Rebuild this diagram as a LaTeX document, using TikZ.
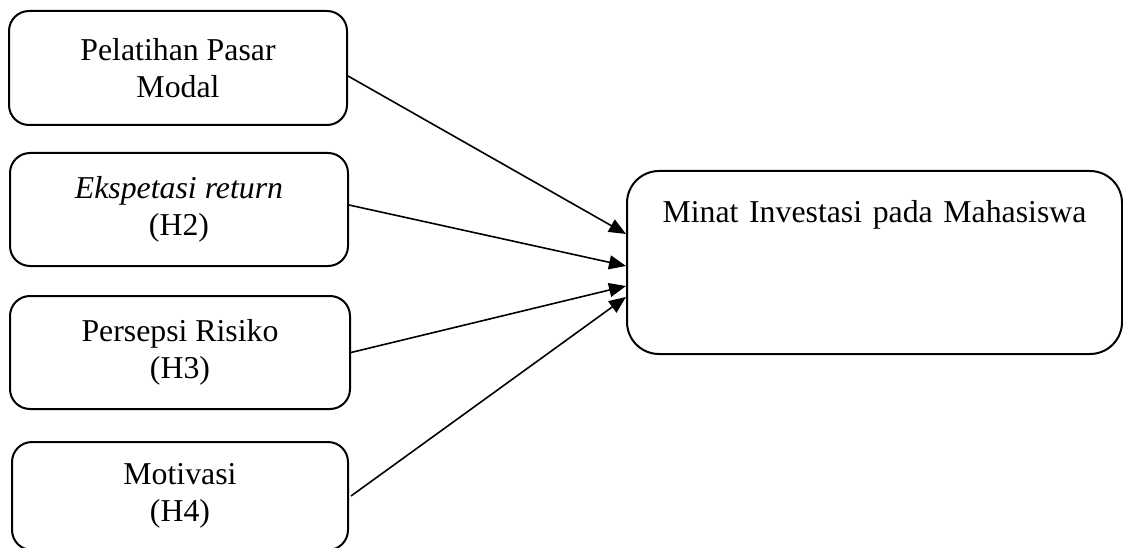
\documentclass[tikz,border=0pt]{standalone}
\usepackage{fontspec}
\setmainfont{Liberation Serif}
\usetikzlibrary{arrows.meta}
\begin{document}
\begin{tikzpicture}[x=1pt,y=-1pt,
  box/.style={draw, line width=2pt, rounded corners=20pt, inner sep=0pt, align=center,
    font=\fontsize{31.8}{36.5}\selectfont},
  arr/.style={line width=1.6pt, -{Triangle[length=17pt,width=14pt]}}]
\useasboundingbox (0,0) rectangle (1123,548);
\node[box, minimum width=338pt, minimum height=114pt] (b1) at (178,68) {Pelatihan Pasar\\Modal};
\node[box, minimum width=338pt, minimum height=113pt] (b2) at (179,209.5) {\textit{Ekspetasi return}\\(H2)};
\node[box, minimum width=340pt, minimum height=113pt] (b3) at (180,352.5) {Persepsi Risiko\\(H3)};
\node[box, minimum width=336pt, minimum height=108pt] (b4) at (180,496) {Motivasi\\(H4)};
\node[box, rounded corners=32pt, text width=495pt, text height=51pt, text depth=132pt] (t) at (874.5,262.5) {Minat Investasi pada Mahasiswa};
\draw[arr] ([yshift=-8pt]b1.east) -- ([yshift=28.5pt]t.west);
\draw[arr] ([yshift=4.5pt]b2.east) -- ([yshift=-3.5pt]t.west);
\draw[arr] (b3.east) -- ([yshift=-23.5pt]t.west);
\draw[arr] ([xshift=2pt]b4.east) -- ([yshift=-34.5pt]t.west);
\end{tikzpicture}
\end{document}
